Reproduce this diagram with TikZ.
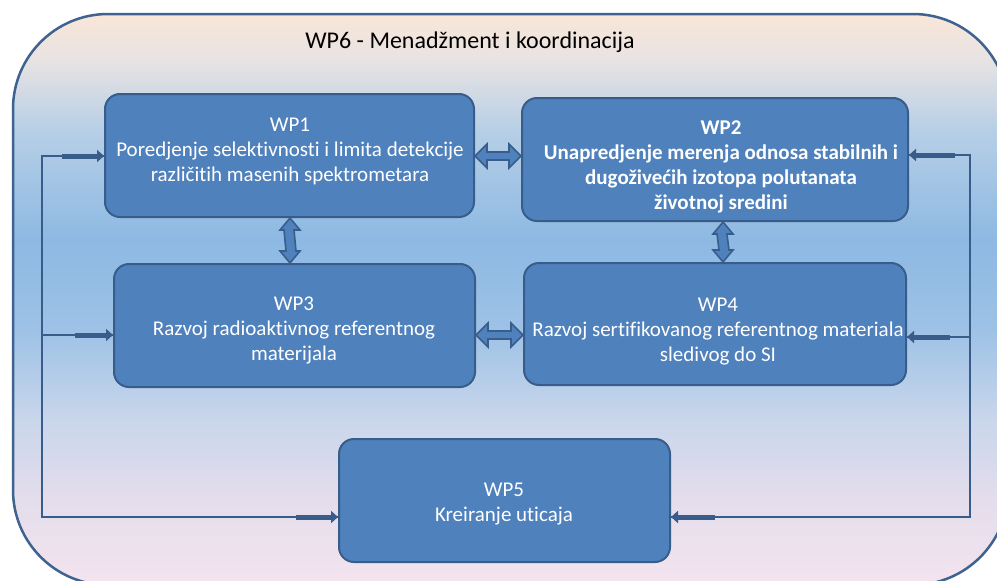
\documentclass[tikz,border=0pt]{standalone}
\usepackage{fontspec}
\setmainfont{Carlito}[RawFeature=-liga]
\usetikzlibrary{arrows.meta,calc}
\definecolor{cA}{HTML}{F4E4EE}
\definecolor{cB}{HTML}{E4DDEC}
\definecolor{cC}{HTML}{C9D6EB}
\definecolor{cD}{HTML}{9EC2E6}
\definecolor{cE}{HTML}{8DB9E3}
\definecolor{cF}{HTML}{B7CFE6}
\definecolor{cG}{HTML}{E8E3E3}
\definecolor{cH}{HTML}{F9E6D8}
\definecolor{boxfill}{HTML}{4F81BD}
\definecolor{boxline}{HTML}{385D8A}
\definecolor{outline}{HTML}{3E6390}
\pgfdeclareverticalshading{bgshade}{100bp}{color(0bp)=(cA); color(25bp)=(cA); color(32.44bp)=(cB); color(39.45bp)=(cC); color(47.33bp)=(cD); color(55.21bp)=(cE); color(64.84bp)=(cF); color(70.97bp)=(cG); color(75bp)=(cH); color(100bp)=(cH)}
\tikzset{
  wpbox/.style={draw=boxline, fill=boxfill, line width=2pt, rounded corners=15pt, inner sep=0pt},
  wptext/.style={text=white, align=center, font=\fontsize{21}{25}\selectfont},
  dblarrow/.style={draw=boxline, fill=boxfill, line width=1.6pt, line join=miter},
  fbline/.style={draw=boxline, line width=2pt},
  fbhead/.style={draw=boxline, line width=5pt, -{Triangle[length=7pt,width=12pt]}},
}
\newcommand\hdbl[3]{%
  \draw[dblarrow] (#1.east |- 0,#3) -- ++(12,-12) -- ++(0,8)
    -- ($(#2.west |- 0,#3)+(-12,-4)$) -- ++(0,-8) -- (#2.west |- 0,#3)
    -- ++(-12,12) -- ++(0,-8) -- ($(#1.east |- 0,#3)+(12,4)$) -- ++(0,8) -- cycle;}
\newcommand\vdbl[3]{%
  \draw[dblarrow] (#1.south -| #3,0) -- ++(-10,12) -- ++(4,0)
    -- ($(#2.north -| #3,0)+(-4,-12)$) -- ++(-6,0) -- (#2.north -| #3,0)
    -- ++(10,-12) -- ++(-4,0) -- ($(#1.south -| #3,0)+(4,12)$) -- ++(6,0) -- cycle;}
\begin{document}
\begin{tikzpicture}[x=1pt,y=-1pt]
\useasboundingbox (0,0) rectangle (997,581);
\clip (0,0) rectangle (997,581);
\fill[white] (0,0) rectangle (997,581);
% outer frame
\shade[shading=bgshade, rounded corners=95pt] (13,14) rectangle (1008,585);
\draw[outline, line width=2.5pt, rounded corners=95pt] (13,14) rectangle (1008,585);
\node[font=\fontsize{24}{28}\selectfont] (wp6) at (470,42) {WP6 - Menadžment i koordinacija};
% boxes
\node[wpbox, minimum width=369pt, minimum height=123pt] (wp1) at (289.5,155.5) {};
\node[wpbox, minimum width=386pt, minimum height=123pt] (wp2) at (715,159.5) {};
\node[wpbox, minimum width=361pt, minimum height=123pt] (wp3) at (294.5,325.5) {};
\node[wpbox, minimum width=382pt, minimum height=122pt] (wp4) at (715,324) {};
\node[wpbox, minimum width=331pt, minimum height=123pt] (wp5) at (504.5,500.5) {};
\node[wptext] (t1) at (290,151) {WP1\\Poredjenje selektivnosti i limita detekcije\\različitih masenih spektrometara};
\node[wptext, font=\fontsize{21}{25}\selectfont\bfseries] (t2) at (721,167) {WP2\\Unapredjenje merenja odnosa stabilnih i\\dugoživećih izotopa polutanata\\životnoj sredini};
\node[wptext] (t3) at (294,330) {WP3\\Razvoj radioaktivnog referentnog\\materijala};
\node[wptext] (t4) at (718,332) {WP4\\Razvoj sertifikovanog referentnog materiala\\sledivog do SI};
\node[wptext] (t5) at (504,504.5) {WP5\\Kreiranje uticaja};
% double arrows
\hdbl{wp1}{wp2}{156}
\hdbl{wp3}{wp4}{335}
\vdbl{wp1}{wp3}{290}
\vdbl{wp2}{wp4}{723}
% feedback lines left
\coordinate (la) at (42,156);
\coordinate (lb) at (42,335);
\coordinate (lc) at (42,517);
\draw[fbline] (wp1.west |- la) -- (la) -- (lc) -- (wp5.west |- lc);
\draw[fbline] (lb) -- (wp3.west |- lb);
\draw[fbhead] (62,156) -- (wp1.west |- la);
\draw[fbhead] (75,335) -- (wp3.west |- lb);
\draw[fbhead] (296,517) -- (wp5.west |- lc);
% feedback lines right
\coordinate (ra) at (970,155);
\coordinate (rb) at (970,337);
\coordinate (rc) at (970,517);
\draw[fbline] (wp2.east |- ra) -- (ra) -- (rc) -- (wp5.east |- rc);
\draw[fbline] (rb) -- (wp4.east |- rb);
\draw[fbhead] (955,155) -- (wp2.east |- ra);
\draw[fbhead] (950,337) -- (wp4.east |- rb);
\draw[fbhead] (715,517) -- (wp5.east |- rc);
\end{tikzpicture}
\end{document}
